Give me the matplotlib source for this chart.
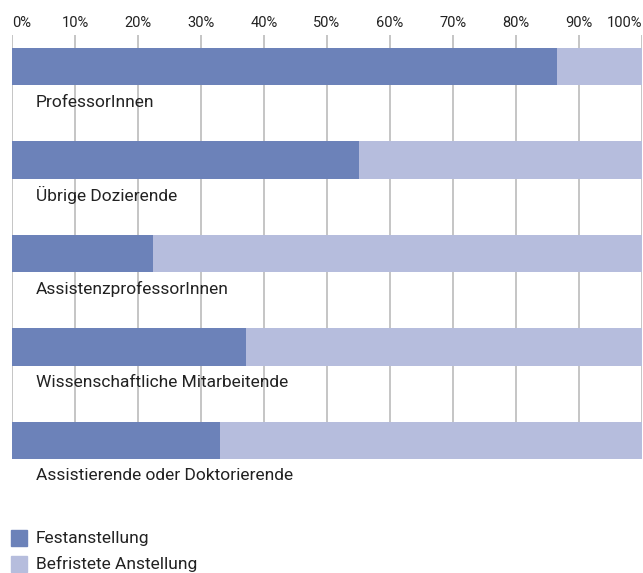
import matplotlib.pyplot as plt
from matplotlib.patches import Rectangle

plt.rcParams['font.family'] = ['Roboto', 'DejaVu Sans']

# data
categories = ['ProfessorInnen', 'Übrige Dozierende', 'AssistenzprofessorInnen',
              'Wissenschaftliche Mitarbeitende', 'Assistierende oder Doktorierende']
fest = [86.5, 55.1, 22.4, 37.1, 33.0]
befristet = [100 - v for v in fest]
ticks = [0, 10, 20, 30, 40, 50, 60, 70, 80, 90, 100]
tick_labels = [f'{t}%' for t in ticks]
series_names = ['Festanstellung', 'Befristete Anstellung']

c_fest = '#6c82b9'
c_bef = '#b6bddd'
c_text = '#222222'

W, H = 643, 573
fig = plt.figure(figsize=(W / 100, H / 100), dpi=100)
ax = fig.add_axes([12 / W, 1 - 459 / H, 630 / W, 424 / H])
ax.set_xlim(0, 100)
ytop = -0.337
ax.set_ylim(4.2, ytop)
ax.axis('off')

# gridlines
ax.vlines(ticks, ytop, len(categories) - 1 - 0.2, color='#bbbbbb', lw=1.2, zorder=0)

ypos = list(range(len(categories)))
ax.barh(ypos, fest, height=0.4, color=c_fest, zorder=2)
ax.barh(ypos, befristet, left=fest, height=0.4, color=c_bef, zorder=2)

for i, name in enumerate(categories):
    ax.text(3.8, i + 0.38, name, ha='left', va='center', fontsize=12.5,
            color=c_text, clip_on=False)

for t, lab in zip(ticks, tick_labels):
    ha = 'center'
    if t == 0:
        ha = 'left'
    elif t == 100:
        ha = 'right'
    ax.text(t, ytop - 12 / 93.45, lab, ha=ha, va='center', fontsize=10.5,
            color=c_text, clip_on=False)

# legend
for k, (name, col) in enumerate(zip(series_names, [c_fest, c_bef])):
    y0 = 530 + k * 26
    fig.add_artist(Rectangle((11 / W, 1 - (y0 + 16) / H), 16 / W, 16 / H,
                             transform=fig.transFigure, color=col))
    fig.text(36 / W, 1 - (y0 + 8) / H, name, ha='left', va='center',
             fontsize=12.5, color=c_text)

fig.savefig('out.png', dpi=100)
